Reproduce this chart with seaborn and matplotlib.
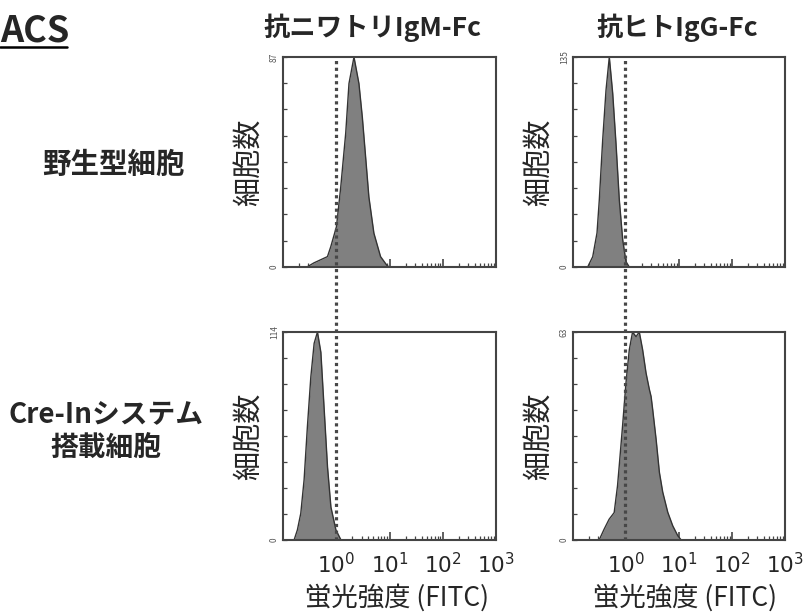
import numpy as np
import pandas as pd
import matplotlib
matplotlib.use("Agg")
import matplotlib.pyplot as plt
import seaborn as sns
from matplotlib.ticker import FixedLocator, MultipleLocator, NullFormatter, LogLocator
from matplotlib.transforms import blended_transform_factory
from matplotlib.lines import Line2D

# ---- labels ----
row_labels = ["野生型細胞", "Cre-Inシステム\n搭載細胞"]
col_titles = ["抗ニワトリIgM-Fc", "抗ヒトIgG-Fc"]
y_label = "細胞数"
x_label = "蛍光強度 (FITC)"
x_ticks = [1, 10, 100, 1000]
x_tick_labels = ["$10^{0}$", "$10^{1}$", "$10^{2}$", "$10^{3}$"]
y_max = [[87, 135], [114, 63]]
gate = [1.0, 0.95]          # dotted gate line per column (FITC)

# ---- histogram outlines: log10 FITC intensity vs. cell count ----
wt_igm_log = [-0.55, -0.42, -0.165, -0.103, 0.004, 0.084, 0.178, 0.239, 0.333,
              0.426, 0.49, 0.551, 0.613, 0.707, 0.832, 0.957, 1.0]
wt_igm_count = [0, 1.7, 4.3, 8.4, 16.7, 33, 55.5, 76, 87,
                76, 62, 45.7, 29, 14, 4.3, 0.5, 0]

wt_igg_log = [-0.723, -0.628, -0.547, -0.504, -0.44, -0.377, -0.315, -0.251,
              -0.189, -0.126, -0.062, 0.0, 0.062]
wt_igg_count = [0, 6.6, 21.9, 43, 81.6, 113.7, 135, 111.7, 79.5, 43, 17.4, 3.4, 0]

cre_igm_log = [-0.792, -0.73, -0.666, -0.604, -0.542, -0.477, -0.415, -0.353,
               -0.289, -0.226, -0.164, -0.1, -0.006, 0.089]
cre_igm_count = [0, 5.5, 14.6, 32.9, 62, 89.5, 107.8, 114, 102.9, 71.2, 40, 18, 5.5, 0]

cre_igg_log = [-0.507, -0.412, -0.318, -0.223, -0.16, -0.128, -0.065, -0.001,
               0.062, 0.124, 0.189, 0.251, 0.314, 0.378, 0.441, 0.473, 0.503,
               0.568, 0.63, 0.693, 0.788, 0.882, 0.977, 1.042]
cre_igg_count = [0, 3.3, 6.3, 8.3, 16.4, 22.4, 34.5, 47.5, 57.6, 63, 61.6, 63,
                 57.6, 50.6, 45.6, 43.5, 39.6, 30.5, 20.5, 14.5, 8.4, 4.3, 1.3, 0]

curves = [[(wt_igm_log, wt_igm_count), (wt_igg_log, wt_igg_count)],
          [(cre_igm_log, cre_igm_count), (cre_igg_log, cre_igg_count)]]

# ---- style ----
sns.set_style("white")
plt.rcParams["font.family"] = ["Noto Sans CJK JP", "DejaVu Sans"]
plt.rcParams["mathtext.fontset"] = "dejavusans"

W, H = 805, 615
fig = plt.figure(figsize=(W / 100, H / 100), dpi=100)

def px_axes(x0, y0, x1, y1):
    return fig.add_axes([x0 / W, 1 - y1 / H, (x1 - x0) / W, (y1 - y0) / H])

col_x = [(283, 496), (573, 785)]
row_y = [(57, 267), (332, 540)]
frame = "#444444"

axes = [[None, None], [None, None]]
for r in range(2):
    for c in range(2):
        ax = px_axes(col_x[c][0], row_y[r][0], col_x[c][1], row_y[r][1])
        axes[r][c] = ax
        lg, cnt = curves[r][c]
        df = pd.DataFrame({"fitc": 10 ** np.asarray(lg, float), "count": cnt})
        ax.fill_between(df["fitc"], df["count"], color="#808080", lw=0, zorder=1)
        sns.lineplot(data=df, x="fitc", y="count", ax=ax, color="#333333",
                     lw=1.0, sort=False, estimator=None, zorder=2)
        ax.set_xscale("log")
        ax.set_xlim(0.1, 1000)
        ax.set_ylim(0, y_max[r][c])
        ax.set_xlabel("")
        ax.set_ylabel(y_label, fontsize=21, labelpad=0)
        ax.yaxis.set_label_coords(-0.085, 0.5)

        for s in ax.spines.values():
            s.set_visible(True)
            s.set_color(frame)
            s.set_linewidth(1.5)

        ax.xaxis.set_major_locator(FixedLocator(x_ticks))
        ax.xaxis.set_minor_locator(LogLocator(base=10, subs=np.arange(2, 10)))
        ax.xaxis.set_minor_formatter(NullFormatter())
        if r == 1:
            ax.set_xticklabels(x_tick_labels, fontsize=15.5)
        else:
            ax.set_xticklabels([])
        ax.tick_params(axis="x", which="major", direction="in", length=6,
                       width=1.2, color=frame, pad=9, bottom=True)
        ax.tick_params(axis="x", which="minor", direction="in", length=3,
                       width=0.9, color=frame, bottom=True)

        ax.set_yticks([0, y_max[r][c]])
        ax.set_yticklabels(["0", str(y_max[r][c])], rotation=90, fontsize=6,
                           va="center", color="#555555")
        ax.yaxis.set_minor_locator(MultipleLocator(y_max[r][c] / 8))
        ax.tick_params(axis="y", which="both", direction="in", length=3,
                       width=0.9, color=frame, pad=3, left=True)

# dotted gate lines spanning both rows of each column
for c in range(2):
    trans = blended_transform_factory(axes[0][c].transData, fig.transFigure)
    fig.add_artist(Line2D([gate[c], gate[c]],
                          [1 - row_y[1][1] / H, 1 - row_y[0][0] / H],
                          transform=trans, ls=(0, (1, 1.1)), lw=2.3,
                          color="#474747", zorder=5))

# column titles
for c, (cx, title) in enumerate(zip([372, 677], col_titles)):
    fig.text(cx / W, 1 - 28 / H, title, ha="center", va="center",
             fontsize=19, fontweight="bold")

# x axis labels
for cx in [397, 685]:
    fig.text(cx / W, 1 - 598 / H, x_label, ha="center", va="center", fontsize=19)

# row labels
fig.text(113 / W, 1 - 165 / H, row_labels[0], ha="center", va="center",
         fontsize=20.5, fontweight="bold")
fig.text(106 / W, 1 - 431 / H, row_labels[1], ha="center", va="center",
         fontsize=20, fontweight="bold", linespacing=1.3)

# heading with underline
fig.text(0, 1 - 31 / H, "ACS", ha="left", va="center", fontsize=26,
         fontweight="bold")
fig.add_artist(Line2D([0, 67 / W], [1 - 47 / H, 1 - 47 / H],
                      transform=fig.transFigure, color="black", lw=1.8))

fig.savefig("out.png", dpi=100)
